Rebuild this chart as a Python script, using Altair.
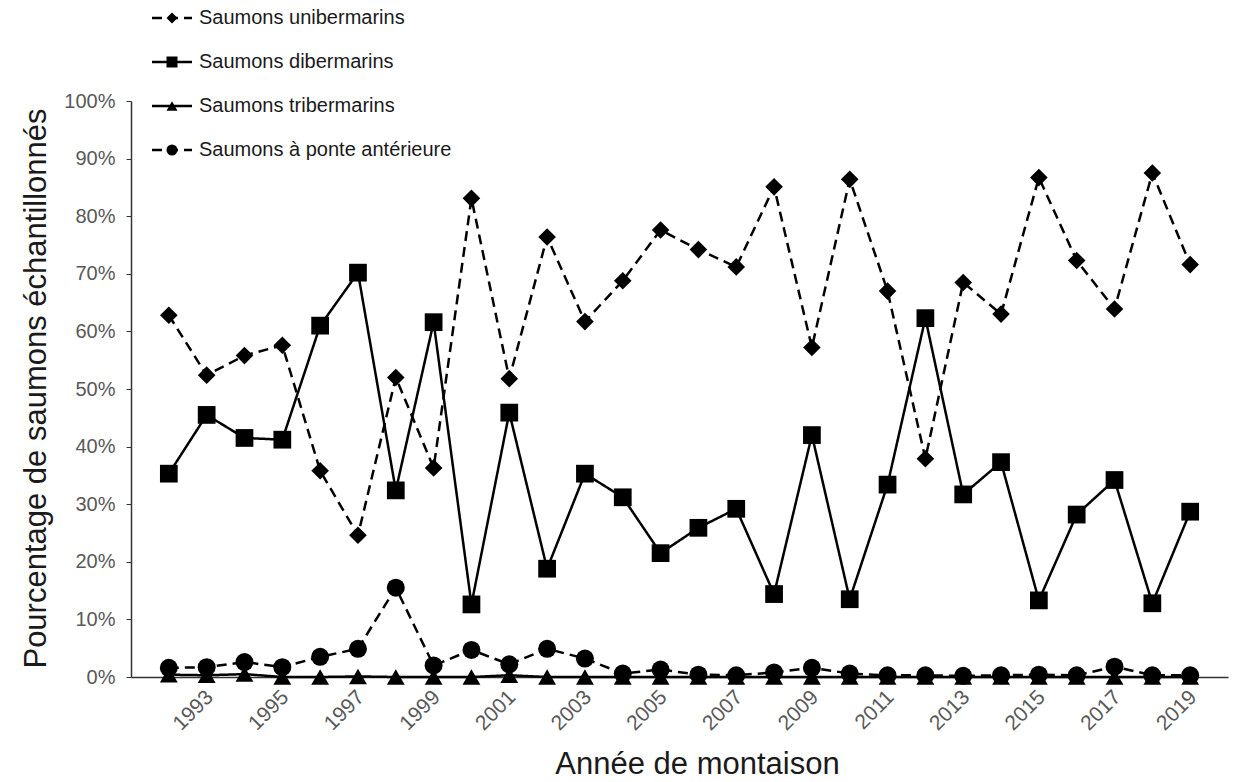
import altair as alt
import pandas as pd

years = [1992, 1993, 1994, 1995, 1996, 1997, 1998, 1999, 2000, 2001,
         2002, 2003, 2004, 2005, 2006, 2007, 2008, 2009, 2010, 2011,
         2012, 2013, 2014, 2015, 2016, 2017, 2018, 2019]

series_names = ["Saumons unibermarins", "Saumons dibermarins",
                "Saumons tribermarins", "Saumons à ponte antérieure"]

uni = [62.8, 52.4, 55.8, 57.6, 35.8, 24.6, 52.0, 36.3, 83.1, 51.8,
       76.4, 61.7, 68.8, 77.6, 74.2, 71.2, 85.1, 57.2, 86.4, 67.0,
       37.9, 68.5, 63.0, 86.7, 72.3, 63.9, 87.5, 71.6]
di = [35.3, 45.5, 41.5, 41.2, 61.0, 70.2, 32.4, 61.6, 12.6, 45.9,
      18.8, 35.3, 31.2, 21.5, 25.9, 29.2, 14.4, 42.0, 13.5, 33.4,
      62.3, 31.7, 37.3, 13.3, 28.2, 34.2, 12.8, 28.7]
tri = [0.4, 0.3, 0.5, 0.0, 0.0, 0.1, 0.0, 0.0, 0.0, 0.3,
       0.0, 0.0, 0.0, 0.0, 0.0, 0.0, 0.0, 0.0, 0.0, 0.0,
       0.0, 0.0, 0.0, 0.0, 0.0, 0.0, 0.0, 0.0]
ponte = [1.6, 1.7, 2.6, 1.7, 3.5, 4.9, 15.5, 2.0, 4.7, 2.2,
         4.9, 3.2, 0.6, 1.3, 0.4, 0.3, 0.8, 1.6, 0.6, 0.3,
         0.3, 0.2, 0.3, 0.4, 0.3, 1.8, 0.3, 0.3]

x_ticks = [1993, 1995, 1997, 1999, 2001, 2003, 2005, 2007, 2009, 2011,
           2013, 2015, 2017, 2019]
y_ticks = [0, 10, 20, 30, 40, 50, 60, 70, 80, 90, 100]

rows = []
for name, vals in zip(series_names, [uni, di, tri, ponte]):
    for yr, v in zip(years, vals):
        rows.append({"annee": yr, "serie": name, "valeur": v})
df = pd.DataFrame(rows)
leg = pd.DataFrame({"serie": series_names})

FONT = "Liberation Sans"

shape_scale = alt.Scale(domain=series_names,
                        range=["diamond", "square", "triangle-up", "circle"])
dash_scale = alt.Scale(domain=series_names,
                       range=[[10, 6], [1, 0], [1, 0], [10, 6]])
size_scale = alt.Scale(domain=series_names, range=[310, 324, 225, 300])

x_enc = alt.X(
    "annee:Q",
    scale=alt.Scale(domain=[1991, 2020], nice=False, zero=False),
    axis=alt.Axis(
        values=x_ticks, format="d", labelAngle=-45, labelFontSize=21,
        labelColor="#595959", labelPadding=9, labelOffset=-5,
        labelOverlap=False,
        labelFont=FONT, ticks=False, grid=False, domainColor="#333333",
        domainWidth=1.5, title="Année de montaison", titleFontSize=31,
        titleFont=FONT, titleFontWeight="normal", titleColor="#1a1a1a",
        titleX=566, titleY=96, titleBaseline="alphabetic",
        titleAlign="center",
    ),
)
y_enc = alt.Y(
    "valeur:Q",
    scale=alt.Scale(domain=[0, 100], nice=False),
    axis=alt.Axis(
        values=y_ticks, labelExpr="datum.value + '%'", labelFontSize=20,
        labelColor="#595959", labelFont=FONT, tickSize=5, tickColor="#333333",
        labelPadding=11, grid=False, domainColor="#333333", domainWidth=1.5,
        title="Pourcentage de saumons échantillonnés", titleFontSize=31,
        titleFont=FONT, titleFontWeight="normal", titleColor="#1a1a1a",
        titleAngle=270, titleX=-86, titleY=287, titleBaseline="alphabetic",
        titleAlign="center",
    ),
)

lines = alt.Chart(df).mark_line(color="black", strokeWidth=2.5).encode(
    x=x_enc, y=y_enc,
    detail="serie:N",
    strokeDash=alt.StrokeDash("serie:N", scale=dash_scale, legend=None),
)
points = alt.Chart(df).mark_point(filled=True, color="black", opacity=1).encode(
    x=x_enc, y=y_enc,
    shape=alt.Shape("serie:N", scale=shape_scale, legend=None),
    size=alt.Size("serie:N", scale=size_scale, legend=None),
)
main = alt.layer(lines, points)

leg_y = alt.Y("serie:N", scale=alt.Scale(type="point", domain=series_names,
                                          range=[-83, 49], padding=0),
              axis=None)
leg_rule = alt.Chart(leg).mark_rule(color="black", strokeWidth=2.5).encode(
    x=alt.value(21), x2=alt.value(61), y=leg_y,
    strokeDash=alt.StrokeDash("serie:N", scale=dash_scale, legend=None),
)
leg_pts = alt.Chart(leg).mark_point(filled=True, color="black", opacity=1,
                                     size=121).encode(
    x=alt.value(41), y=leg_y,
    shape=alt.Shape("serie:N", scale=shape_scale, legend=None),
)
leg_txt = alt.Chart(leg).mark_text(align="left", baseline="middle",
                                    fontSize=20, font=FONT,
                                    color="#1a1a1a").encode(
    x=alt.value(68), y=leg_y, text="serie:N",
)
legend = alt.layer(leg_rule, leg_pts, leg_txt)

chart = alt.layer(main, legend).resolve_scale(y="independent").properties(
    width=1097, height=576,
    background="white",
    autosize=alt.AutoSizeParams(type="none"),
    padding={"left": 131, "top": 101, "right": 5, "bottom": 105},
).configure_view(stroke=None, strokeWidth=0)

chart.save("out.html", embed_options={"renderer": "svg", "actions": False})
